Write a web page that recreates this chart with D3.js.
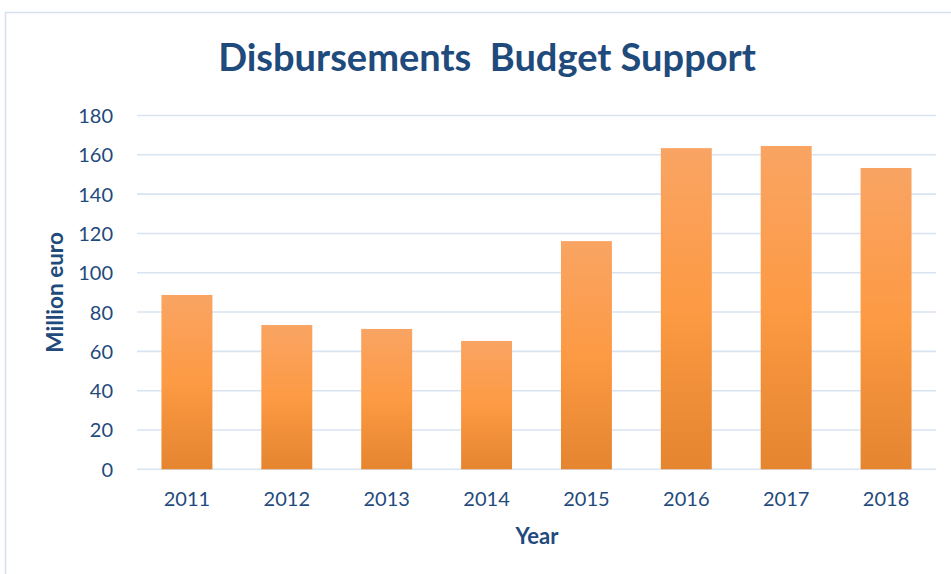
<!DOCTYPE html>
<html><head><meta charset="utf-8">
<script src="https://cdn.jsdelivr.net/npm/d3@7"></script>
<style>body{margin:0;background:#fff}svg{display:block}</style>
</head><body>
<svg id="c" width="951" height="574"></svg>
<script>
const years = ["2011","2012","2013","2014","2015","2016","2017","2018"];
const values = [88.7, 73.4, 71.4, 65.3, 116.1, 163.4, 164.5, 153.3];
const yTicks = [0,20,40,60,80,100,120,140,160,180];
const titleText = "Disbursements  Budget Support";
const yTitle = "Million euro";
const xTitle = "Year";

const svg = d3.select("#c");
const font = "Lato, 'Open Sans', sans-serif";
const textColor = "#1f4a7c";
const m = {l:137, r:936, t:115.5, b:469.3};

svg.append("rect").attr("x",5.5).attr("y",12.5).attr("width",960).attr("height",600)
  .attr("fill","#fff").attr("stroke","#d6e0ee").attr("stroke-width",1.5);

const defs = svg.append("defs");
const g = defs.append("linearGradient").attr("id","bg").attr("x1",0).attr("y1",0).attr("x2",0).attr("y2",1);
g.append("stop").attr("offset","0%").attr("stop-color","#f9a463");
g.append("stop").attr("offset","50%").attr("stop-color","#fd9a44");
g.append("stop").attr("offset","100%").attr("stop-color","#e5852f");

const x = d3.scaleBand().domain(years).range([m.l,m.r]).paddingInner(0.49).paddingOuter(0.245);
const y = d3.scaleLinear().domain([0,180]).range([m.b,m.t]);

svg.append("g").selectAll("line").data(yTicks).join("line")
  .attr("x1",m.l).attr("x2",m.r).attr("y1",d=>y(d)).attr("y2",d=>y(d))
  .attr("stroke","#d9e4f2").attr("stroke-width",1.6);

svg.append("g").selectAll("rect").data(values).join("rect")
  .attr("x",(d,i)=>x(years[i])).attr("width",x.bandwidth())
  .attr("y",d=>y(d)).attr("height",d=>y(0)-y(d)).attr("fill","url(#bg)");

const yAxis = svg.append("g").attr("transform",`translate(${m.l-24},0)`)
  .call(d3.axisLeft(y).tickValues(yTicks).tickSize(0).tickPadding(0));
yAxis.select(".domain").remove();
yAxis.selectAll("text").attr("font-family",font).attr("font-size",20).attr("fill",textColor).attr("dy","0.35em");

const xAxis = svg.append("g").attr("transform",`translate(0,${m.b})`)
  .call(d3.axisBottom(x).tickSize(0).tickPadding(23));
xAxis.select(".domain").remove();
xAxis.selectAll("text").attr("font-family",font).attr("font-size",20).attr("fill",textColor);

svg.append("text").attr("x",487).attr("y",71).attr("text-anchor","middle")
  .attr("font-family",font).attr("font-weight","bold").attr("font-size",38).attr("fill",textColor)
  .style("white-space","pre").attr("xml:space","preserve")
  .text(titleText);

svg.append("text").attr("transform",`translate(63,${(m.t+m.b)/2}) rotate(-90)`).attr("text-anchor","middle")
  .attr("font-family",font).attr("font-weight","bold").attr("font-size",22.5).attr("fill",textColor)
  .text(yTitle);

svg.append("text").attr("x",537).attr("y",544).attr("text-anchor","middle")
  .attr("font-family",font).attr("font-weight","bold").attr("font-size",22).attr("fill",textColor)
  .text(xTitle);
</script>
</body></html>
